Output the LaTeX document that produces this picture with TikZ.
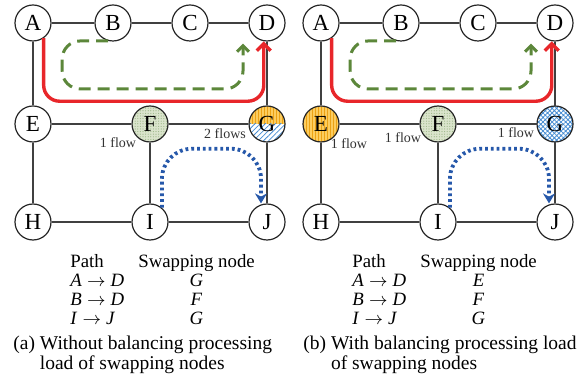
\documentclass[tikz,border=0pt]{standalone}
\usepackage{fontspec}
\setmainfont{Liberation Serif}
\usetikzlibrary{positioning,arrows.meta,patterns,patterns.meta}

\definecolor{pathred}{RGB}{232,38,42}
\definecolor{pathgreen}{RGB}{92,135,58}
\definecolor{pathblue}{RGB}{38,88,170}
\definecolor{loadorange}{RGB}{252,205,95}
\definecolor{stripeorange}{RGB}{236,162,20}
\definecolor{hatchblue}{RGB}{70,140,210}
\definecolor{nodegreen}{RGB}{218,228,204}

\begin{document}
\begin{tikzpicture}[x=0.5pt, y=-0.5pt]
    % Styles
    \tikzstyle{sw} = [circle, draw=black!85, line width=0.6pt, minimum size=18pt, inner sep=0pt, font=\fontsize{11.5}{11.5}\selectfont]
    \tikzstyle{plain} = [sw]
    \tikzstyle{greenload} = [sw, preaction={fill=nodegreen}, pattern={Dots[distance=1.3pt,radius=0.3pt]}, pattern color=pathgreen!60]
    \tikzstyle{orangeload} = [sw, preaction={fill=loadorange}, pattern={Lines[angle=90,distance=1.5pt,line width=0.5pt]}, pattern color=stripeorange]
    \tikzstyle{blueload} = [sw, preaction={fill=white}, pattern={Hatch[angle=45,distance=1.6pt,line width=0.4pt]}, pattern color=hatchblue]
    \tikzstyle{splitload} = [sw, path picture={
        \fill[loadorange] (path picture bounding box.north west) rectangle (path picture bounding box.east);
        \fill[pattern={Lines[angle=90,distance=1.5pt,line width=0.5pt]}, pattern color=stripeorange] (path picture bounding box.north west) rectangle (path picture bounding box.east);
        \fill[pattern={Lines[angle=45,distance=1.8pt,line width=0.4pt]}, pattern color=hatchblue] (path picture bounding box.west) rectangle (path picture bounding box.south east);
    }]
    \tikzstyle{link} = [draw=black!75, line width=0.6pt]
    \tikzstyle{redpath} = [draw=pathred, line width=1.7pt, rounded corners=8pt, -{Straight Barb[length=3.5pt,width=7pt]}]
    \tikzstyle{greenpath} = [draw=pathgreen, line width=1.5pt, dash pattern=on 6pt off 3.5pt, rounded corners=9pt, -{Straight Barb[length=3pt,width=6pt]}]
    \tikzstyle{bluepath} = [draw=pathblue, line width=1.9pt, dash pattern=on 1.4pt off 1.5pt, rounded corners=15pt, -{Stealth[length=5pt,width=6pt]}]
    \tikzstyle{flow} = [font=\fontsize{7}{7}\selectfont, text=black!80, inner sep=0pt]
    \tikzstyle{tbl} = [font=\fontsize{9.4}{9.5}\selectfont, inner sep=0pt, anchor=base west]
    \tikzstyle{captext} = [font=\fontsize{9.75}{9}\selectfont, inner sep=0pt, anchor=base west]

    \useasboundingbox (0,0) rectangle (583,389);

    % Two panels: (a) and (b)
    \foreach \p/\dx/\es/\gs in {a/0/plain/splitload, b/288/orangeload/blueload} {
        \node[plain] (\p A) at (\dx+33,23) {A};
        \node[plain] (\p B) at (\dx+113,23) {B};
        \node[plain] (\p C) at (\dx+190,23) {C};
        \node[plain] (\p D) at (\dx+267,23) {D};
        \node[\es] (\p E) at (\dx+33,124) {E};
        \node[greenload] (\p F) at (\dx+150,124) {F};
        \node[\gs] (\p G) at (\dx+267,124) {G};
        \node[plain] (\p H) at (\dx+33,222) {H};
        \node[plain] (\p I) at (\dx+150,222) {I};
        \node[plain] (\p J) at (\dx+267,222) {J};

        \foreach \u/\v in {A/B,B/C,C/D,A/E,D/G,E/F,F/G,E/H,F/I,G/J,H/I,I/J}
            \draw[link] (\p\u) -- (\p\v);

        % Paths
        \draw[redpath] (\p A.-55) -- ++(0,63) -| (\p D.-100);
        \draw[greenpath] (\p B.-105) -- ++(-46,0) -- ++(0,48) -| ([xshift=-12pt,yshift=-1pt]\p D.south);
        \draw[bluepath] (\p I.50) -- ++(0,-59) -| ([xshift=-3pt]\p J.north);
    }

    % Flow counts
    \node[flow] (aflowF) at ([shift={(-32,19)}]aF) {1 flow};
    \node[flow] (aflowG) at ([shift={(-42,10)}]aG) {2 flows};
    \node[flow] (bflowE) at ([shift={(28,20)}]bE) {1 flow};
    \node[flow] (bflowF) at ([shift={(-35,14)}]bF) {1 flow};
    \node[flow] (bflowG) at ([shift={(-39,9)}]bG) {1 flow};

    % Tables
    \node[tbl] (atab) at (70,268) {\begin{tabular}[t]{@{}l@{\hspace{7pt}}c@{}}
        Path & Swapping node\\
        \textit{A}$\;\rightarrow\;$\textit{D} & \textit{G}\\
        \textit{B}$\;\rightarrow\;$\textit{D} & \textit{F}\\
        \textit{I}$\;\rightarrow\;$\textit{J} & \textit{G}
    \end{tabular}};
    \node[tbl] (btab) at (352,268) {\begin{tabular}[t]{@{}l@{\hspace{7pt}}c@{}}
        Path & Swapping node\\
        \textit{A}$\;\rightarrow\;$\textit{D} & \textit{E}\\
        \textit{B}$\;\rightarrow\;$\textit{D} & \textit{F}\\
        \textit{I}$\;\rightarrow\;$\textit{J} & \textit{G}
    \end{tabular}};

    % Captions
    \node[captext] (acap) at (13,350) {\begin{tabular}[t]{@{}l@{\ }l@{}}
        (a) & Without balancing processing\\
            & load of swapping nodes
    \end{tabular}};
    \node[captext] (bcap) at (303,350) {\begin{tabular}[t]{@{}l@{\ }l@{}}
        (b) & With balancing processing load\\
            & of swapping nodes
    \end{tabular}};

\end{tikzpicture}
\end{document}
